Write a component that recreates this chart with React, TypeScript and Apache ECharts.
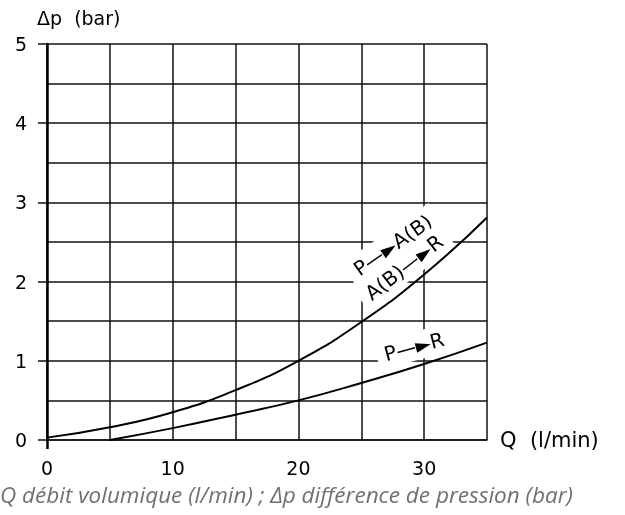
import React, { useEffect, useRef } from "react";
import * as echarts from "echarts";

const flowQ = [0, 5, 10, 15, 20, 25, 30, 35];
const dpPtoA = [0.03, 0.16, 0.35, 0.63, 1.0, 1.49, 2.09, 2.81];
const flowQR = [5, 10, 15, 20, 25, 30, 35];
const dpPtoR = [0.0, 0.15, 0.32, 0.5, 0.72, 0.96, 1.23];
const yTickLabels = [0, 1, 2, 3, 4, 5];
const xTickLabels = [0, 10, 20, 30];

const FONT = "DejaVu Sans";

export default function App() {
  const ref = useRef<HTMLDivElement>(null);
  useEffect(() => {
    if (!ref.current) return;
    const chart = echarts.init(ref.current, null, { renderer: "svg" });
    const lbl = (text: string, coord: number[], rot: number) => ({
      coord,
      symbol: "circle",
      symbolSize: 0,
      label: {
        show: true,
        position: "inside",
        formatter: text,
        rotate: rot,
        color: "#000",
        fontFamily: FONT,
        fontSize: 20,
        backgroundColor: "#fff",
        padding: [4, 8],
      },
    });
    const gridLine = { show: true, lineStyle: { color: "#111", width: 1.5 } };
    chart.setOption({
      animation: false,
      grid: { left: 47, right: 138, top: 44, bottom: 75, containLabel: false, outerBoundsMode: "none" },
      xAxis: [
        {
          type: "value",
          min: 0,
          max: 35,
          interval: 5,
          name: "Q  (l/min)",
          nameLocation: "end",
          nameGap: 13,
          nameTextStyle: { color: "#000", fontFamily: FONT, fontSize: 21, align: "left", verticalAlign: "middle" },
          axisLine: { show: true, onZero: false, lineStyle: { color: "#111", width: 1.5 } },
          axisTick: { show: true, customValues: [0], length: 9, lineStyle: { color: "#000", width: 2.5 } },
          axisLabel: { customValues: xTickLabels, color: "#000", fontFamily: FONT, fontSize: 19, margin: 18 },
          splitLine: { show: false },
          z: 3,
        },
        {
          type: "value",
          position: "bottom",
          min: 0,
          max: 35,
          interval: 5,
          axisLine: { show: false },
          axisTick: { show: false },
          axisLabel: { show: false },
          splitLine: gridLine,
        },
      ],
      yAxis: [
        {
          type: "value",
          min: 0,
          max: 5,
          interval: 0.5,
          name: "Δp  (bar)",
          nameLocation: "end",
          nameGap: 26,
          nameTextStyle: { color: "#000", fontFamily: FONT, fontSize: 19, align: "left", verticalAlign: "middle", padding: [0, 0, 0, -10] },
          axisLine: { show: true, lineStyle: { color: "#000", width: 2.5 } },
          axisTick: { show: true, customValues: yTickLabels, length: 9, lineStyle: { color: "#111", width: 1.5 } },
          axisLabel: { customValues: yTickLabels, color: "#000", fontFamily: FONT, fontSize: 19, margin: 20 },
          splitLine: { show: false },
          z: 3,
        },
        {
          type: "value",
          position: "left",
          min: 0,
          max: 5,
          interval: 0.5,
          axisLine: { show: false },
          axisTick: { show: false },
          axisLabel: { show: false },
          splitLine: gridLine,
        },
      ],
      series: [
        {
          type: "line",
          data: flowQ.map((q, i) => [q, dpPtoA[i]]),
          smooth: true,
          symbol: "none",
          lineStyle: { color: "#000", width: 2 },
          z: 5,
          markPoint: {
            data: [lbl("P—►A(B)", [27.5, 2.46], 35), lbl("A(B)—►R", [28.4, 2.18], 38)],
          },
        },
        {
          type: "line",
          data: flowQR.map((q, i) => [q, dpPtoR[i]]),
          smooth: true,
          symbol: "none",
          lineStyle: { color: "#000", width: 2 },
          z: 5,
          markPoint: { data: [lbl("P—►R", [29.2, 1.18], 15)] },
        },
      ],
      graphic: [
        {
          type: "text",
          left: 0,
          top: 483,
          style: {
            text: "Q débit volumique (l/min) ; Δp différence de pression (bar)",
            fill: "#707070",
            font: "italic 22.5px 'Open Sans'",
          },
        },
      ],
    });
    return () => chart.dispose();
  }, []);
  return <div ref={ref} style={{ position: "fixed", left: 0, top: 0, width: 625, height: 515 }} />;
}
